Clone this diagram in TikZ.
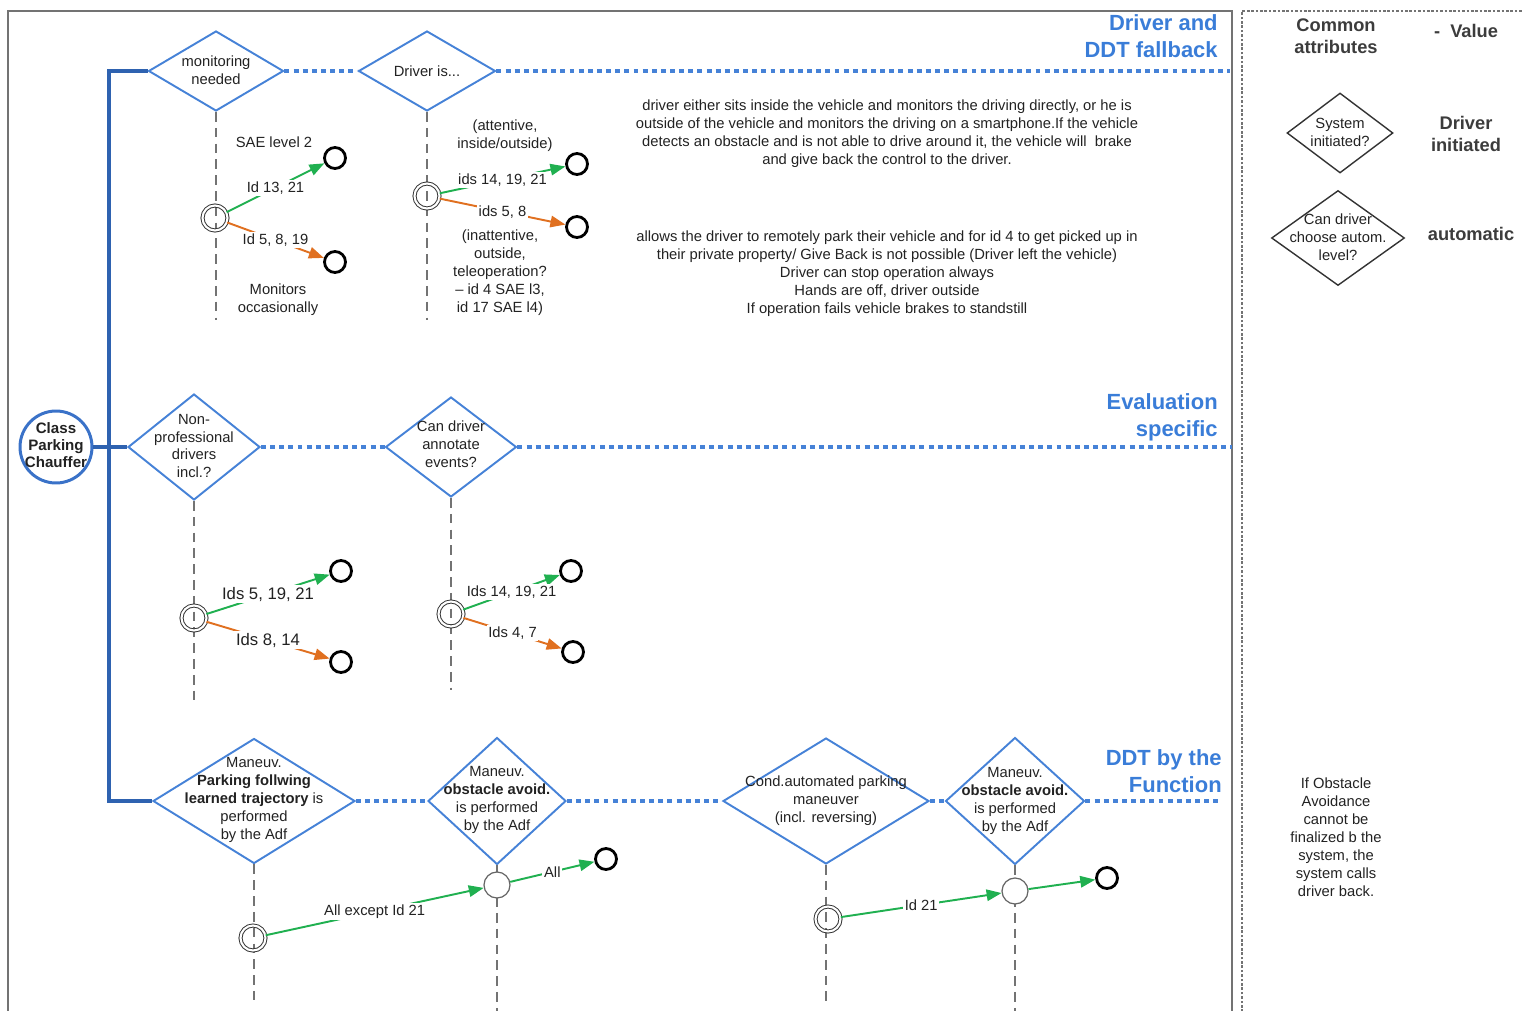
\documentclass[tikz,border=0pt]{standalone}
\usepackage{fontspec}
\setmainfont{Liberation Sans}
\usetikzlibrary{shapes.geometric,arrows.meta}
\definecolor{dblue}{RGB}{70,130,215}
\definecolor{hblue}{RGB}{58,125,216}
\definecolor{tblue}{RGB}{46,98,176}
\definecolor{cblue}{RGB}{58,114,200}
\definecolor{agreen}{RGB}{32,176,80}
\definecolor{aorange}{RGB}{224,112,32}
\definecolor{txt}{RGB}{34,34,34}
\definecolor{legtxt}{RGB}{60,60,60}
\begin{document}
\begin{tikzpicture}[x=0.02cm,y=-0.02cm,
  every node/.style={text=txt},
  f/.style={font=\fontsize{8.4}{10.2}\selectfont, inner sep=0pt},
  dtext/.style={align=center, font=\fontsize{8.4}{10.2}\selectfont, inner sep=0pt},
  diam/.style={diamond, draw=dblue, line width=1.1pt, inner sep=0pt},
  ldiam/.style={diamond, draw=black!80, line width=0.8pt, inner sep=0pt},
  hdr/.style={align=right, anchor=east, text=hblue, inner sep=0pt, font=\bfseries\fontsize{12.5}{15.3}\selectfont},
  leg/.style={align=center, text=legtxt, inner sep=0pt, font=\bfseries\fontsize{10.4}{12.5}\selectfont},
  bluedot/.style={draw=dblue, line width=2.2pt, dash pattern=on 2.8pt off 2.4pt},
  life/.style={draw=black!55, line width=0.6pt, dash pattern=on 5.5pt off 3.5pt},
  trunk/.style={draw=tblue, line width=2pt},
  dbl/.style={circle, draw=black!80, double, double distance=1.2pt, line width=0.55pt, minimum size=0.5cm, inner sep=0pt},
  endc/.style={circle, draw=black, line width=1.6pt, minimum size=0.42cm, inner sep=0pt, fill=white},
  midc/.style={circle, draw=black!60, line width=0.7pt, minimum size=0.52cm, inner sep=0pt, fill=white},
  garr/.style={draw=agreen, line width=1.1pt, -{Triangle[length=8.5pt,width=6.5pt]}},
  oarr/.style={draw=aorange, line width=1.1pt, -{Triangle[length=8.5pt,width=6.5pt]}},
  lbl/.style={fill=white, inner sep=1pt, font=\fontsize{8.4}{10.2}\selectfont},
  lblL/.style={fill=white, inner sep=1pt, font=\fontsize{9.5}{11}\selectfont}
]
\useasboundingbox (0,0) rectangle (1523,1010);

% frames
\draw[black!55, line width=1.1pt] (8,1012) -- (8,11) -- (1232,11) -- (1232,1012);
\draw[black!55, line width=0.9pt, dash pattern=on 1.5pt off 1pt] (1242,1012) -- (1242,11) -- (1525,11);

% class node
\node[circle, draw=cblue, line width=1.7pt, minimum size=1.44cm, inner sep=0pt] (cls) at (56,447) {};
\node[align=center, inner sep=0pt, font=\bfseries\fontsize{8.6}{9.9}\selectfont] (clst) at (56,445) {Class\\Parking\\Chauffer};

% diamonds row 1
\node[diam, minimum width=2.70cm, minimum height=1.60cm] (d1) at (216,71) {};
\node[dtext] (d1t) at (216,70) {monitoring\\needed};
\node[diam, minimum width=2.74cm, minimum height=1.60cm] (d2) at (427,71) {};
\node[dtext] (d2t) at (427,71) {Driver is...};

% diamonds row 2
\node[diam, minimum width=2.64cm, minimum height=2.12cm] (d3) at (194,447) {};
\node[dtext] (d3t) at (194,446) {Non-\\professional\\drivers\\incl.?};
\node[diam, minimum width=2.62cm, minimum height=2.00cm] (d4) at (451,447) {};
\node[dtext] (d4t) at (451,444) {Can driver\\annotate\\events?};

% diamonds row 3
\node[diam, minimum width=4.04cm, minimum height=2.50cm] (d5) at (254,801) {};
\node[dtext] (d5t) at (254,800) {Maneuv.\\\textbf{Parking follwing}\\\textbf{learned trajectory} is\\performed\\by the Adf};
\node[diam, minimum width=2.76cm, minimum height=2.54cm] (d6) at (497,801) {};
\node[dtext] (d6t) at (497,800) {Maneuv.\\\textbf{obstacle avoid.}\\is performed\\by the Adf};
\node[diam, minimum width=4.12cm, minimum height=2.52cm] (d7) at (826,801) {};
\node[dtext] (d7t) at (826,801) {Cond.automated parking\\maneuver\\(incl. reversing)};
\node[diam, minimum width=2.78cm, minimum height=2.54cm] (d8) at (1015,801) {};
\node[dtext] (d8t) at (1015,801) {Maneuv.\\\textbf{obstacle avoid.}\\is performed\\by the Adf};

% trunk
\coordinate (tt) at (109,71);
\coordinate (tb) at (109,801);
\draw[trunk] (d1.west) -- (tt) -- (tb) -- (d5.west);
\draw[trunk] (cls.east) -- (d3.west);

% dotted row lines
\coordinate (r1e) at (1230,71);
\coordinate (r2e) at (1232,447);
\coordinate (r3e) at (1222,801);
\draw[bluedot] (d1.east) -- (d2.west);
\draw[bluedot] (d2.east) -- (r1e);
\draw[bluedot] (d3.east) -- (d4.west);
\draw[bluedot] (d4.east) -- (r2e);
\draw[bluedot] (d5.east) -- (d6.west);
\draw[bluedot] (d6.east) -- (d7.west);
\draw[bluedot] (d7.east) -- (d8.west);
\draw[bluedot] (d8.east) -- (r3e);

% lifelines
\coordinate (l1) at (216,320);
\coordinate (l2) at (427,320);
\coordinate (l3) at (194,705);
\coordinate (l4) at (451,690);
\coordinate (l5) at (254,1000);
\coordinate (l6) at (497,1012);
\coordinate (l7) at (826,1005);
\coordinate (l8) at (1015,1012);
\draw[life] (d1.south) -- (l1);
\draw[life] (d2.south) -- (l2);
\draw[life] (d3.south) -- (l3);
\draw[life] (d4.south) -- (l4);
\draw[life] (d5.south) -- (l5);
\draw[life] (d6.south) -- (l6);
\draw[life] (d7.south) -- (l7);
\draw[life] (d8.south) -- (l8);

% row 1 states
\node[dbl] (c1) at (215,218) {};
\node[endc] (e1a) at (335,158) {};
\node[endc] (e1b) at (335,262) {};
\draw[garr] (c1) -- node[lbl] (l1a) {Id 13, 21} (e1a);
\draw[oarr] (c1) -- node[lbl] (l1b) {Id 5, 8, 19} (e1b);
\node[f] (t1) at (274,142) {SAE level 2};
\node[f, align=center] (t2) at (278,300) {Monitors\\occasionally};

\node[dbl] (c2) at (427,196) {};
\node[endc] (e2a) at (577,164) {};
\node[endc] (e2b) at (577,227) {};
\draw[garr] (c2) -- node[lbl] (l2a) {ids 14, 19, 21} (e2a);
\draw[oarr] (c2) -- node[lbl] (l2b) {ids 5, 8} (e2b);
\node[f, align=center] (t3) at (505,136) {(attentive,\\inside/outside)};
\node[f, align=center] (t4) at (500,273) {(inattentive,\\outside,\\teleoperation?\\– id 4 SAE l3,\\id 17 SAE l4)};

% text blocks
\node[f, align=center] (tb1) at (887,134) {driver either sits inside the vehicle and monitors the driving directly, or he is\\outside of the vehicle and monitors the driving on a smartphone.If the vehicle\\detects an obstacle and is not able to drive around it, the vehicle will\ \ brake\\and give back the control to the driver.};
\node[f, align=center] (tb2) at (887,274) {allows the driver to remotely park their vehicle and for id 4 to get picked up in\\their private property/ Give Back is not possible (Driver left the vehicle)\\Driver can stop operation always\\Hands are off, driver outside\\If operation fails vehicle brakes to standstill};

% row 2 states
\node[dbl] (c3) at (194,618) {};
\node[endc] (e3a) at (341,571) {};
\node[endc] (e3b) at (341,662) {};
\draw[garr] (c3) -- node[lblL] (l3a) {Ids 5, 19, 21} (e3a);
\draw[oarr] (c3) -- node[lblL] (l3b) {Ids 8, 14} (e3b);

\node[dbl] (c4) at (451,614) {};
\node[endc] (e4a) at (571,571) {};
\node[endc] (e4b) at (573,652) {};
\draw[garr] (c4) -- node[lbl] (l4a) {Ids 14, 19, 21} (e4a);
\draw[oarr] (c4) -- node[lbl] (l4b) {Ids 4, 7} (e4b);

% row 3 states
\node[dbl] (c5) at (253,938) {};
\node[midc] (m6) at (497,885) {};
\node[endc] (e6) at (606,859) {};
\draw[garr] (c5) -- node[lbl] (l5a) {All except Id 21} (m6);
\draw[garr] (m6) -- node[lbl] (l6a) {All} (e6);

\node[dbl] (c7) at (828,919) {};
\node[midc] (m8) at (1015,891) {};
\node[endc] (e8) at (1107,878) {};
\draw[garr] (c7) -- node[lbl] (l7a) {Id 21} (m8);
\draw[garr] (m8) -- (e8);

% headers
\node[hdr] (h1) at (1218,36) {Driver and\\DDT fallback};
\node[hdr] (h2) at (1218,417) {Evaluation\\specific};
\node[hdr] (h3) at (1222,771) {DDT by the\\Function};

% legend
\node[leg] (lg1) at (1336,36) {Common\\attributes};
\node[leg] (lg2) at (1466,31) {-\ \ Value};
\node[ldiam, minimum width=2.12cm, minimum height=1.60cm] (s1) at (1340,133) {};
\node[dtext] (s1t) at (1340,132) {System\\initiated?};
\node[leg] (lg3) at (1466,134) {Driver\\initiated};
\node[ldiam, minimum width=2.66cm, minimum height=1.90cm] (s2) at (1338,238) {};
\node[dtext] (s2t) at (1338,237) {Can driver\\choose autom.\\level?};
\node[leg] (lg4) at (1471,234) {automatic};
\node[f, align=center] (lg5) at (1336,837) {If Obstacle\\Avoidance\\cannot be\\finalized b the\\system, the\\system calls\\driver back.};
\end{tikzpicture}
\end{document}
